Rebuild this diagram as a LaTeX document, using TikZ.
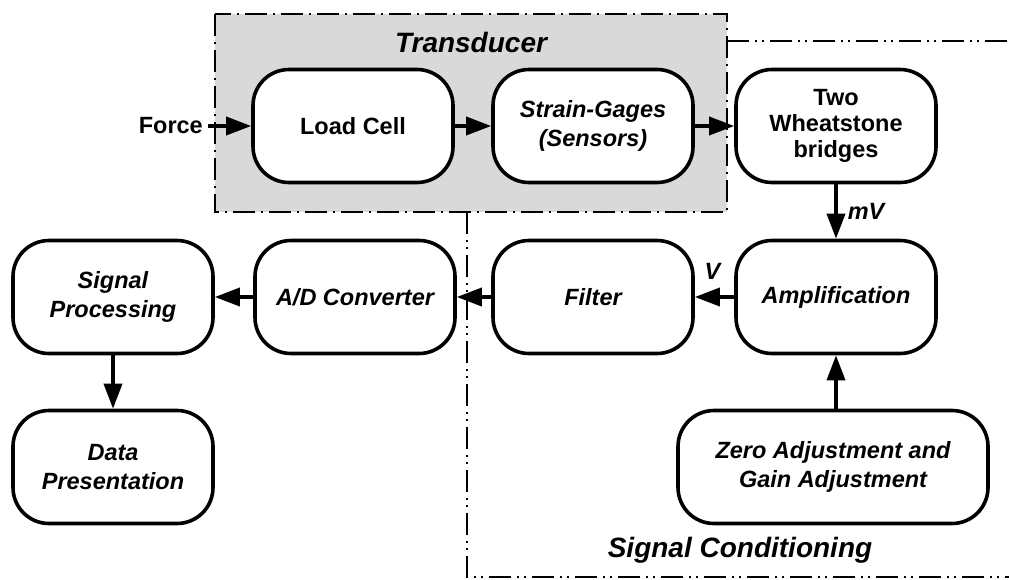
\documentclass[tikz,border=0pt]{standalone}
\usepackage{fontspec}
\setmainfont{Liberation Sans}
\usetikzlibrary{arrows.meta}
\definecolor{tgray}{RGB}{217,217,217}
\begin{document}
\begin{tikzpicture}[x=1pt,y=-1pt,
  blk/.style={draw=black, line width=3.6pt, rounded corners=36pt, fill=white,
    minimum width=200pt, minimum height=113pt, align=center, inner sep=0pt,
    font=\fontsize{23.5}{29}\selectfont\bfseries},
  itblk/.style={blk, font=\fontsize{23.5}{29}\selectfont\bfseries\itshape},
  arr/.style={line width=3.6pt, -{Triangle[length=25pt,width=18pt]}},
  lbl/.style={font=\fontsize{23.5}{28}\selectfont\bfseries\itshape, inner sep=0pt},
  ttl/.style={font=\fontsize{28}{32}\selectfont\bfseries\itshape, inner sep=0pt},
  trdash/.style={line width=2pt, dash pattern=on 22pt off 6pt on 2pt off 6pt},
  scdash/.style={line width=2pt, dash pattern=on 22pt off 6pt on 2pt off 5pt on 2pt off 6pt}
]
\useasboundingbox (0,0) rectangle (1009,579);
% transducer region
\draw[trdash, fill=tgray] (215,14) rectangle (727,212);
\node[ttl] (ttr) at (471,42) {Transducer};
% signal conditioning region
\draw[scdash] (727,41) -- (1009,41);
\draw[scdash] (467,212) -- (467,577) -- (1009,577);
\node[ttl] (tsc) at (740,550) {Signal Conditioning};
% nodes
\node[font=\fontsize{23.5}{28}\selectfont\bfseries, inner sep=0pt, anchor=east] (force) at (203,126) {Force};
\node[blk] (lc) at (353,126) {Load Cell};
\node[itblk] (sg) at (593,126) {Strain-Gages\\(Sensors)};
\node[blk, font=\fontsize{23.5}{26}\selectfont\bfseries] (wb) at (836,126) {Two\\Wheatstone\\bridges};
\node[itblk] (amp) at (836,297) {Amplification};
\node[itblk] (fil) at (593,297) {Filter};
\node[itblk] (ad) at (355,297) {A/D Converter};
\node[itblk] (sp) at (113,297) {Signal\\Processing};
\node[itblk] (dp) at (113,467) {Data\\Presentation};
\node[itblk, minimum width=310pt] (zero) at (833,467) {Zero Adjustment and\\Gain Adjustment};
% connectors
\draw[arr] ([xshift=5pt]force.east) -- (lc.west);
\draw[arr] (lc.east) -- (sg.west);
\draw[arr] (sg.east) -- (wb.west);
\draw[arr] (wb.south) -- (amp.north) node[lbl, midway, anchor=west, xshift=10pt] (mv) {mV};
\draw[arr] (zero.north -| amp.south) -- (amp.south);
\draw[arr] (amp.west) -- (fil.east) node[lbl, pos=0.55, anchor=south, yshift=16pt] (v) {V};
\draw[arr] (fil.west) -- (ad.east);
\draw[arr] (ad.west) -- (sp.east);
\draw[arr] (sp.south) -- (dp.north);
\end{tikzpicture}
\end{document}
